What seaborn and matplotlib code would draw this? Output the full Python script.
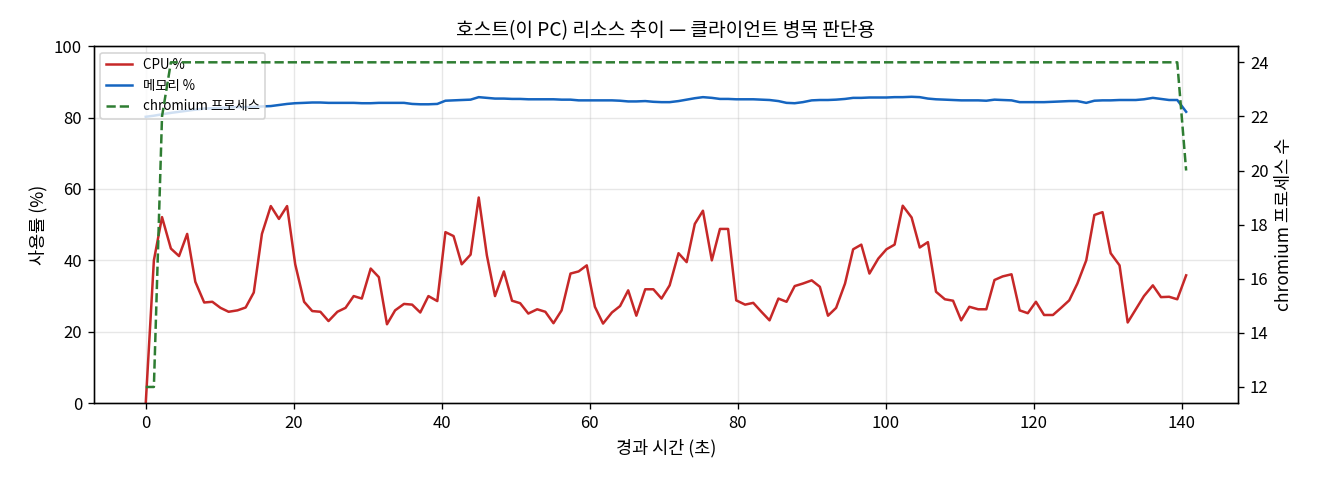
import numpy as np
import pandas as pd
import matplotlib
matplotlib.use("Agg")
import matplotlib.pyplot as plt
import seaborn as sns

plt.rcParams["font.family"] = ["Noto Sans CJK KR", "DejaVu Sans"]
plt.rcParams["axes.unicode_minus"] = False

# 경과 시간 (초)
elapsed = [
    0.0, 1.1, 2.2, 3.4, 4.5, 5.6, 6.7, 7.9, 9.0, 10.1,
    11.2, 12.4, 13.5, 14.6, 15.7, 16.9, 18.0, 19.1, 20.2, 21.4,
    22.5, 23.6, 24.7, 25.9, 27.0, 28.1, 29.2, 30.4, 31.5, 32.6,
    33.7, 34.9, 36.0, 37.1, 38.2, 39.4, 40.5, 41.6, 42.7, 43.9,
    45.0, 46.1, 47.2, 48.4, 49.5, 50.6, 51.7, 52.9, 54.0, 55.1,
    56.2, 57.4, 58.5, 59.6, 60.7, 61.8, 63.0, 64.1, 65.2, 66.3,
    67.5, 68.6, 69.7, 70.8, 72.0, 73.1, 74.2, 75.3, 76.5, 77.6,
    78.7, 79.8, 81.0, 82.1, 83.2, 84.3, 85.5, 86.6, 87.7, 88.8,
    90.0, 91.1, 92.2, 93.3, 94.5, 95.6, 96.7, 97.8, 99.0, 100.1,
    101.2, 102.3, 103.5, 104.6, 105.7, 106.8, 108.0, 109.1, 110.2, 111.3,
    112.5, 113.6, 114.7, 115.8, 117.0, 118.1, 119.2, 120.3, 121.4, 122.6,
    123.7, 124.8, 125.9, 127.1, 128.2, 129.3, 130.4, 131.6, 132.7, 133.8,
    134.9, 136.1, 137.2, 138.3, 139.4, 140.6,
]

cpu = [
    0.0, 40.0, 52.1, 43.3, 41.2, 47.4, 34.0, 28.2, 28.4, 26.7,
    25.6, 26.0, 26.8, 31.0, 47.4, 55.2, 51.6, 55.2, 38.9, 28.4,
    25.8, 25.6, 23.0, 25.6, 26.7, 30.0, 29.3, 37.7, 35.3, 22.1,
    26.0, 27.8, 27.6, 25.4, 30.0, 28.6, 47.9, 46.8, 38.9, 41.6,
    57.6, 41.4, 30.0, 36.9, 28.7, 28.0, 25.1, 26.3, 25.6, 22.4,
    26.0, 36.3, 36.9, 38.6, 27.0, 22.3, 25.4, 27.2, 31.6, 24.5,
    31.9, 31.9, 29.3, 33.0, 42.0, 39.5, 50.2, 53.9, 40.0, 48.8,
    48.8, 28.8, 27.6, 28.1, 25.6, 23.2, 29.3, 28.4, 32.8, 33.5,
    34.4, 32.6, 24.5, 26.7, 33.5, 43.1, 44.4, 36.3, 40.5, 43.1,
    44.4, 55.3, 52.0, 43.6, 45.1, 31.2, 29.1, 28.7, 23.2, 27.0,
    26.3, 26.3, 34.5, 35.5, 36.1, 26.0, 25.2, 28.4, 24.7, 24.7,
    26.7, 28.8, 33.5, 40.0, 52.7, 53.5, 42.0, 38.6, 22.6, 26.3,
    30.0, 33.0, 29.7, 29.8, 29.1, 35.8,
]

memory = [
    80.2, 80.5, 80.9, 81.3, 81.6, 81.9, 82.2, 82.5, 82.6, 82.7,
    82.8, 82.9, 82.9, 83.0, 83.1, 83.2, 83.5, 83.8, 84.0, 84.1,
    84.2, 84.2, 84.1, 84.1, 84.1, 84.1, 84.0, 84.0, 84.1, 84.1,
    84.1, 84.1, 83.8, 83.7, 83.7, 83.8, 84.7, 84.8, 84.9, 85.0,
    85.7, 85.5, 85.3, 85.3, 85.2, 85.2, 85.1, 85.1, 85.1, 85.1,
    85.0, 85.0, 84.8, 84.8, 84.8, 84.8, 84.8, 84.7, 84.5, 84.5,
    84.6, 84.4, 84.3, 84.3, 84.6, 85.0, 85.4, 85.7, 85.5, 85.2,
    85.2, 85.1, 85.1, 85.1, 85.0, 84.9, 84.6, 84.1, 84.0, 84.3,
    84.8, 84.9, 84.9, 85.0, 85.2, 85.5, 85.5, 85.6, 85.6, 85.6,
    85.7, 85.7, 85.8, 85.7, 85.3, 85.1, 85.0, 84.9, 84.8, 84.8,
    84.8, 84.7, 85.0, 84.9, 84.8, 84.3, 84.3, 84.3, 84.3, 84.4,
    84.5, 84.6, 84.6, 84.1, 84.7, 84.8, 84.8, 84.9, 84.9, 84.9,
    85.1, 85.5, 85.2, 84.9, 84.9, 81.6,
]

chromium = [12, 12, 22] + [24] * 122 + [20]

df = pd.DataFrame({"t": elapsed, "cpu": cpu, "mem": memory, "chromium": chromium})

fig, ax1 = plt.subplots(figsize=(11, 4), dpi=120)
fig.subplots_adjust(left=0.071, right=0.938, top=0.904, bottom=0.160)

sns.lineplot(data=df, x="t", y="cpu", ax=ax1, color="#c62828", lw=1.5, label="CPU %")
sns.lineplot(data=df, x="t", y="mem", ax=ax1, color="#1565c0", lw=1.5, label="메모리 %")
ax1.set_ylim(0, 100)
ax1.set_xlabel("경과 시간 (초)", fontsize=10.5)
ax1.set_ylabel("사용률 (%)", fontsize=10.5)
ax1.grid(alpha=0.3)

ax2 = ax1.twinx()
sns.lineplot(data=df, x="t", y="chromium", ax=ax2, color="#2e7d32", lw=1.5,
             linestyle="--", label="chromium 프로세스")
ax2.set_ylabel("chromium 프로세스 수", fontsize=10.5)
ax2.get_legend().remove()

h1, l1 = ax1.get_legend_handles_labels()
h2, l2 = ax2.get_legend_handles_labels()
ax1.legend(h1 + h2, l1 + l2, loc="upper left", fontsize=8)

ax1.set_title("호스트(이 PC) 리소스 추이 — 클라이언트 병목 판단용", fontsize=11.5)

fig.savefig("out.png")
